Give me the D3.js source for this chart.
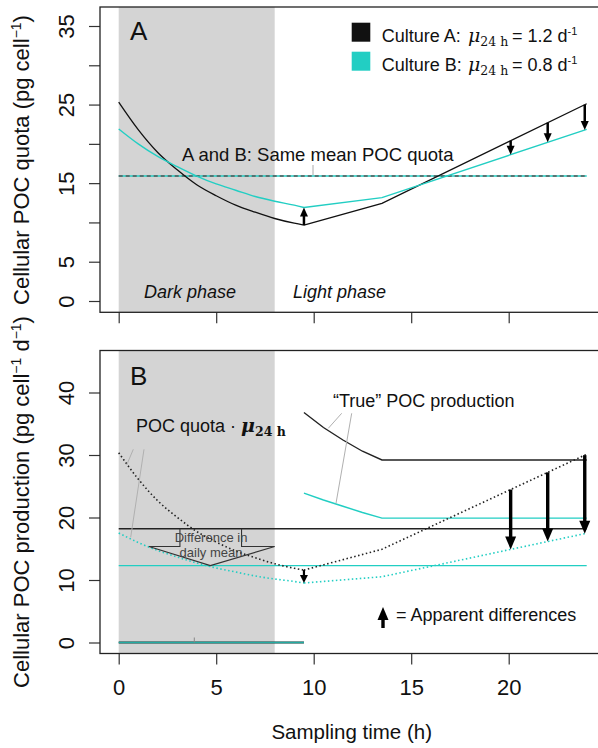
<!DOCTYPE html>
<html>
<head>
<meta charset="utf-8">
<script src="https://cdn.jsdelivr.net/npm/d3@7"></script>
<style>
  body { margin: 0; background: #fff; }
  text { font-family: "Liberation Sans", Arial, sans-serif; fill: #111; }
</style>
</head>
<body>
<script>
// sampling times (h) and POC quota (pg cell-1)
var times  = [0, 1, 2, 3, 4, 5, 6, 7, 8, 9, 9.5, 13.5, 24];
var quotaA = [25.3, 21.8, 18.9, 16.7, 14.8, 13.4, 12.2, 11.3, 10.5, 9.9, 9.66, 12.43, 25.1];
var quotaB = [21.9, 20.0, 18.4, 17.1, 15.9, 14.9, 14.1, 13.3, 12.7, 12.2, 11.9, 13.15, 21.85];
var mu = [1.2, 0.8];              // growth rates d-1, culture A and B
var meanQuota = 15.9;
var meanProd = [18.2, 12.3];      // daily mean production A, B
var trueTimes = [9.5, 10.5, 11.5, 12.5, 13.5, 24];
var trueA = [36.8, 34.4, 32.4, 30.6, 29.2, 29.2];
var trueB = [23.9, 22.8, 21.8, 20.8, 19.9, 19.9];
var zeroTimes = [0, 9.5];
var arrowTimes = [9.5, 20.1, 22, 23.9];
var darkPhase = [0, 8];
var xTicks = [0, 5, 10, 15, 20];
var yTicksA = [0, 5, 10, 15, 20, 25, 30, 35],
    yLabelsA = ["0", "5", "", "15", "", "25", "", "35"];
var yTicksB = [0, 10, 20, 30, 40];

var width = 598, height = 748;
var black = "#111", cyan = "#22cec3", grey = "#d4d4d4";

var svg = d3.select("body").append("svg")
    .attr("width", width).attr("height", height);

var x = d3.scaleLinear().domain([0, 24]).range([118.7, 586.7]);
var yA = d3.scaleLinear().domain([0, 35]).range([301, 26]);
var yB = d3.scaleLinear().domain([0, 40]).range([642.5, 392.5]);

var frameA = {top: 7, bottom: 312.3},
    frameB = {top: 350.5, bottom: 653.5},
    left = 100, right = 605.4;

// piecewise interpolators for arrow ends
var interpA = d3.scaleLinear().domain(times).range(quotaA),
    interpB = d3.scaleLinear().domain(times).range(quotaB);

var prodA = quotaA.map(function(d) { return d * mu[0]; }),
    prodB = quotaB.map(function(d) { return d * mu[1]; });

function panelBase(frame) {
  svg.append("rect")
    .attr("x", x(darkPhase[0])).attr("y", frame.top)
    .attr("width", x(darkPhase[1]) - x(darkPhase[0]))
    .attr("height", frame.bottom - frame.top)
    .attr("fill", grey);
}

function frameBox(frame) {
  svg.append("rect")
    .attr("x", left).attr("y", frame.top)
    .attr("width", right - left).attr("height", frame.bottom - frame.top)
    .attr("fill", "none").attr("stroke", "#222").attr("stroke-width", 1.3);
}

function yAxis(scale, ticks, labels) {
  var g = svg.append("g").attr("transform", "translate(" + left + ",0)")
    .call(d3.axisLeft(scale).tickValues(ticks).tickSize(11)
      .tickFormat(function(d, i) { return labels ? labels[i] : d; }));
  g.select(".domain").remove();
  g.selectAll("line").attr("stroke", "#333").attr("stroke-width", 1.2);
  g.selectAll("text")
    .attr("x", 0).attr("y", -26).attr("dy", 0)
    .attr("transform", "rotate(-90)")
    .attr("text-anchor", "middle")
    .style("font-size", "22px").style("font-family", "Liberation Sans, Arial, sans-serif")
    .attr("fill", "#111");
}

function xAxis(y0, withLabels) {
  var g = svg.append("g").attr("transform", "translate(0," + y0 + ")")
    .call(d3.axisBottom(x).tickValues(xTicks).tickSize(11)
      .tickFormat(withLabels ? d3.format("d") : ""));
  g.select(".domain").remove();
  g.selectAll("line").attr("stroke", "#333").attr("stroke-width", 1.2);
  g.selectAll("text")
    .attr("y", 41.5).attr("dy", 0)
    .style("font-size", "22px").style("font-family", "Liberation Sans, Arial, sans-serif")
    .attr("fill", "#111");
}

function arrow(px, y1, y2, w, hw, hl) {
  var dir = y2 > y1 ? 1 : -1;
  svg.append("line")
    .attr("x1", px).attr("x2", px)
    .attr("y1", y1).attr("y2", y2 - dir * hl * 0.8)
    .attr("stroke", "#000").attr("stroke-width", w);
  svg.append("path")
    .attr("d", "M" + (px - hw / 2) + "," + (y2 - dir * hl) +
               "L" + (px + hw / 2) + "," + (y2 - dir * hl) +
               "L" + px + "," + y2 + "Z")
    .attr("fill", "#000");
}

var curve = d3.line().x(function(d) { return x(d[0]); }).y(function(d) { return d[1]; });
var smooth = d3.line().curve(d3.curveMonotoneX)
    .x(function(d) { return x(d[0]); }).y(function(d) { return d[1]; });

function drawSeries(ts, vs, scale, color, opts) {
  var pts = ts.map(function(t, i) { return [t, scale(vs[i])]; });
  var k = ts.indexOf(9.5);
  var dark = pts.slice(0, k + 1), light = pts.slice(k);
  [[dark, smooth], [light, curve]].forEach(function(p) {
    svg.append("path").attr("d", p[1](p[0]))
      .attr("fill", "none").attr("stroke", color)
      .attr("stroke-width", opts.w)
      .attr("stroke-dasharray", opts.dash || null);
  });
}

// ---------------- Panel A ----------------
panelBase(frameA);

svg.append("line")
  .attr("x1", x(0)).attr("x2", x(24))
  .attr("y1", yA(meanQuota)).attr("y2", yA(meanQuota))
  .attr("stroke", cyan).attr("stroke-width", 1.4);
svg.append("line")
  .attr("x1", x(0)).attr("x2", x(24))
  .attr("y1", yA(meanQuota)).attr("y2", yA(meanQuota))
  .attr("stroke", "#555").attr("stroke-width", 1.4).attr("stroke-dasharray", "4,3");

drawSeries(times, quotaA, yA, black, {w: 1.3});
drawSeries(times, quotaB, yA, cyan, {w: 1.4});

arrowTimes.forEach(function(t) {
  arrow(x(t), yA(interpA(t)), yA(interpB(t)), 2.5, 8, 9);
});

svg.append("text").attr("x", 130).attr("y", 40).style("font-size", "26px").text("A");

svg.append("line").attr("x1", 313).attr("x2", 313).attr("y1", 165).attr("y2", 175)
  .attr("stroke", "#aaa").attr("stroke-width", 1);
svg.append("text").attr("x", 182).attr("y", 160.5).style("font-size", "18.5px")
  .text("A and B: Same mean POC quota");

svg.append("text").attr("x", 144).attr("y", 297.5).style("font-size", "18px")
  .style("font-style", "italic").text("Dark phase");
svg.append("text").attr("x", 293).attr("y", 297.5).style("font-size", "18px")
  .style("font-style", "italic").text("Light phase");

// legend
var legend = [["Culture A: ", "1.2", black], ["Culture B: ", "0.8", cyan]];
legend.forEach(function(d, i) {
  var y0 = 22.7 + i * 29;
  svg.append("rect").attr("x", 351.7).attr("y", y0).attr("width", 18.6).attr("height", 19)
    .attr("fill", d[2]);
  var t = svg.append("text").attr("x", 381.7).attr("y", y0 + 18.8).style("font-size", "18px");
  t.append("tspan").text(d[0]);
  t.append("tspan").attr("x", 468).style("font-family", "DejaVu Serif, serif")
    .style("font-style", "italic").style("font-size", "19px").text("μ");
  t.append("tspan").attr("dy", 4).style("font-family", "DejaVu Serif, serif")
    .style("font-size", "12.5px").text("24 h");
  t.append("tspan").attr("x", 512).attr("dy", -4).text("= " + d[1] + " d");
  t.append("tspan").attr("dy", -7).style("font-size", "11px").text("-1");
});

xAxis(frameA.bottom, false);
yAxis(yA, yTicksA, yLabelsA);
frameBox(frameA);

var tA = svg.append("text").attr("transform", "translate(29,160) rotate(-90)")
  .attr("text-anchor", "middle").style("font-size", "22px");
tA.append("tspan").text("Cellular POC quota (pg cell");
tA.append("tspan").attr("dy", -8).style("font-size", "14px").text("−1");
tA.append("tspan").attr("dy", 8).text(")");

// ---------------- Panel B ----------------
panelBase(frameB);

// daily mean production
meanProd.forEach(function(m, i) {
  svg.append("line")
    .attr("x1", x(0)).attr("x2", x(24))
    .attr("y1", yB(m)).attr("y2", yB(m))
    .attr("stroke", i === 0 ? "#222" : cyan).attr("stroke-width", 1.4);
});

// zero production during dark phase
svg.append("line").attr("x1", x(zeroTimes[0])).attr("x2", x(zeroTimes[1]))
  .attr("y1", yB(0)).attr("y2", yB(0)).attr("stroke", "#222").attr("stroke-width", 1.8);
svg.append("line").attr("x1", x(zeroTimes[0])).attr("x2", x(zeroTimes[1]))
  .attr("y1", yB(0)).attr("y2", yB(0)).attr("stroke", cyan).attr("stroke-width", 1.3)
  .attr("opacity", 0.8);
svg.append("line").attr("x1", 194.3).attr("x2", 194.3).attr("y1", 637.5).attr("y2", yB(0))
  .attr("stroke", "#888").attr("stroke-width", 1);

// "true" production
[[trueA, "#222"], [trueB, cyan]].forEach(function(s) {
  svg.append("path")
    .attr("d", curve(trueTimes.map(function(t, i) { return [t, yB(s[0][i])]; })))
    .attr("fill", "none").attr("stroke", s[1]).attr("stroke-width", 1.4);
});

// quota x mu (dotted)
drawSeries(times, prodA, yB, "#222", {w: 1.6, dash: "1.5,2.5"});
drawSeries(times, prodB, yB, cyan, {w: 1.6, dash: "1.5,2.5"});

arrowTimes.forEach(function(t, i) {
  if (i === 0) arrow(x(t), yB(interpA(t) * mu[0]), yB(interpB(t) * mu[1]), 2.2, 8, 8);
  else arrow(x(t), yB(interpA(t) * mu[0]), yB(interpB(t) * mu[1]), 3.4, 11, 13);
});

// difference in daily mean callout
var cx = [3.14, 6.3, 1.55, 8.0, 4.7], wingV = 15.35;
svg.append("path")
  .attr("d", "M" + x(cx[0]) + "," + yB(meanProd[0]) +
             "L" + x(cx[0]) + "," + yB(wingV) +
             "L" + x(cx[2]) + "," + yB(wingV) +
             "L" + x(cx[4]) + "," + yB(meanProd[1]) +
             "L" + x(cx[3]) + "," + yB(wingV) +
             "L" + x(cx[1]) + "," + yB(wingV) +
             "L" + x(cx[1]) + "," + yB(meanProd[0]))
  .attr("fill", "none").attr("stroke", "#333").attr("stroke-width", 1.1);
["Difference in", "daily mean"].forEach(function(s, i) {
  svg.append("text").attr("x", 211).attr("y", 541.5 + i * 15.5)
    .attr("text-anchor", "middle")
    .style("font-family", "Liberation Sans Narrow, Liberation Sans, sans-serif")
    .style("font-size", "13px").style("fill", "#444").text(s);
});

// labels & pointers
svg.append("text").attr("x", 130).attr("y", 385).style("font-size", "26px").text("B");

var pq = svg.append("text").attr("x", 136).attr("y", 431.5).style("font-size", "18px");
pq.append("tspan").text("POC quota · ");
pq.append("tspan").style("font-family", "DejaVu Serif, serif").style("font-style", "italic")
  .style("font-weight", "bold").style("font-size", "19px").text("μ");
pq.append("tspan").attr("dy", 4).style("font-family", "DejaVu Serif, serif")
  .style("font-weight", "bold").style("font-size", "12.5px").text("24 h");

[[133.3, 449.3, 126.7, 465], [144, 449.3, 130.7, 537.3],
 [341.7, 413.3, 328.3, 428.3], [351.7, 413.3, 336, 503.3]].forEach(function(p) {
  svg.append("line").attr("x1", p[0]).attr("y1", p[1]).attr("x2", p[2]).attr("y2", p[3])
    .attr("stroke", "#b0b0b0").attr("stroke-width", 1);
});

svg.append("text").attr("x", 333).attr("y", 407).style("font-size", "18px")
  .text("\u201cTrue\u201d POC production");

arrow(383, 628, 607, 3.4, 11, 13);
svg.append("text").attr("x", 396).attr("y", 620.5).style("font-size", "18px")
  .text("= Apparent differences");

xAxis(frameB.bottom, true);
yAxis(yB, yTicksB, null);
frameBox(frameB);

var tB = svg.append("text").attr("transform", "translate(29,502) rotate(-90)")
  .attr("text-anchor", "middle").style("font-size", "22px");
tB.append("tspan").text("Cellular POC production (pg cell");
tB.append("tspan").attr("dy", -8).style("font-size", "14px").text("−1");
tB.append("tspan").attr("dy", 8).text(" d");
tB.append("tspan").attr("dy", -8).style("font-size", "14px").text("−1");
tB.append("tspan").attr("dy", 8).text(")");

svg.append("text").attr("x", 351.7).attr("y", 739).attr("text-anchor", "middle")
  .style("font-size", "20.5px").text("Sampling time (h)");
</script>
</body>
</html>
